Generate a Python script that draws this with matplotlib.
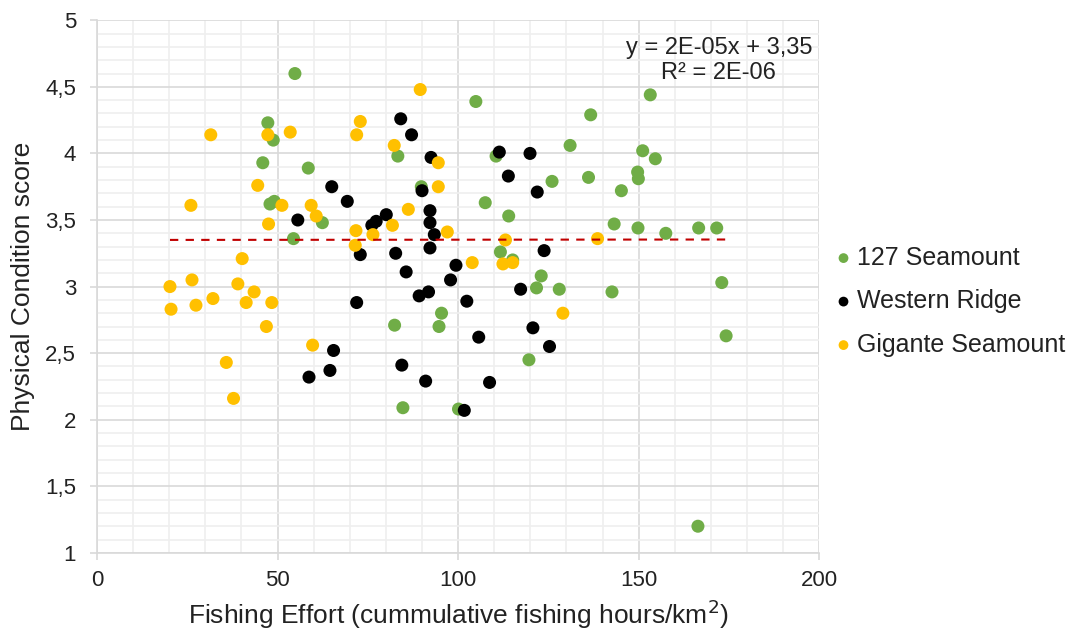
import matplotlib
matplotlib.use("Agg")
import matplotlib.pyplot as plt
import numpy as np
from matplotlib.ticker import MultipleLocator, FuncFormatter

plt.rcParams["font.family"] = ["Liberation Sans", "DejaVu Sans"]

# ── Colors (Excel defaults) ──────────────────────────────────────────────────
C_GREEN = "#70AD47"
C_BLACK = "#000000"
C_YELLOW = "#FFC000"
C_TREND = "#C00000"
C_TEXT = "#222222"
C_MAJOR = "#D9D9D9"
C_MINOR = "#EFEFEF"

# ── Data ─────────────────────────────────────────────────────────────────────
seamount127_x = [54.8, 47.3, 48.8, 45.9, 47.9, 49.1, 58.5, 62.4, 54.4, 83.3,
                 89.8, 95.4, 82.4, 94.7, 84.7, 100.1, 104.9, 153.2, 136.7, 131.0,
                 110.5, 151.1, 154.6, 136.1, 149.7, 149.9, 126.0, 145.2, 107.5, 114.0,
                 143.2, 149.8, 111.7, 115.1, 123.0, 121.7, 128.0, 142.6, 119.6, 157.5,
                 166.6, 171.6, 173.0, 174.2, 166.4]
seamount127_y = [4.60, 4.23, 4.10, 3.93, 3.62, 3.64, 3.89, 3.48, 3.36, 3.98,
                 3.75, 2.80, 2.71, 2.70, 2.09, 2.08, 4.39, 4.44, 4.29, 4.06,
                 3.98, 4.02, 3.96, 3.82, 3.86, 3.81, 3.79, 3.72, 3.63, 3.53,
                 3.47, 3.44, 3.26, 3.20, 3.08, 2.99, 2.98, 2.96, 2.45, 3.40,
                 3.44, 3.44, 3.03, 2.63, 1.20]

western_x = [84.1, 87.1, 92.5, 65.0, 90.0, 69.3, 55.6, 92.2, 92.2, 80.1,
             77.3, 76.1, 93.4, 72.9, 82.7, 92.2, 99.4, 85.6, 97.9, 89.2,
             91.8, 71.9, 102.4, 65.5, 64.5, 58.7, 84.4, 91.0, 101.7, 111.4,
             119.9, 113.9, 121.9, 123.8, 117.3, 120.7, 105.7, 125.3, 108.7]
western_y = [4.26, 4.14, 3.97, 3.75, 3.72, 3.64, 3.50, 3.57, 3.48, 3.54,
             3.49, 3.46, 3.39, 3.24, 3.25, 3.29, 3.16, 3.11, 3.05, 2.93,
             2.96, 2.88, 2.89, 2.52, 2.37, 2.32, 2.41, 2.29, 2.07, 4.01,
             4.00, 3.83, 3.71, 3.27, 2.98, 2.69, 2.62, 2.55, 2.28]

gigante_x = [31.5, 47.3, 44.5, 26.0, 47.5, 40.2, 26.3, 20.2, 39.0, 43.5,
             32.1, 41.3, 48.4, 20.5, 27.4, 46.9, 35.8, 37.8, 89.5, 53.5,
             72.9, 71.9, 82.3, 94.5, 94.5, 51.2, 59.3, 60.7, 86.2, 81.8,
             71.7, 76.4, 97.0, 71.5, 59.7, 113.1, 138.6, 103.9, 112.4, 115.1,
             129.0]
gigante_y = [4.14, 4.14, 3.76, 3.61, 3.47, 3.21, 3.05, 3.00, 3.02, 2.96,
             2.91, 2.88, 2.88, 2.83, 2.86, 2.70, 2.43, 2.16, 4.48, 4.16,
             4.24, 4.14, 4.06, 3.93, 3.75, 3.61, 3.61, 3.53, 3.58, 3.46,
             3.42, 3.39, 3.41, 3.31, 2.56, 3.35, 3.36, 3.18, 3.17, 3.18,
             2.80]

series_names = ["127 Seamount", "Western Ridge", "Gigante Seamount"]
series_colors = [C_GREEN, C_BLACK, C_YELLOW]

# Excel linear trendline over all points
trend_slope = 2e-05
trend_intercept = 3.35

# ── Figure ───────────────────────────────────────────────────────────────────
fig = plt.figure(figsize=(10.78, 6.34), dpi=100)
ax = fig.add_axes([0.090, 0.128, 0.670, 0.840])

all_x = seamount127_x + western_x + gigante_x
for xs, ys, name, col in zip([seamount127_x, western_x, gigante_x],
                             [seamount127_y, western_y, gigante_y],
                             series_names, series_colors):
    ax.scatter(xs, ys, s=88, color=col, edgecolors="none", label=name, zorder=3)

tx = np.array([min(all_x), max(all_x)])
ax.plot(tx, trend_slope * tx + trend_intercept, color=C_TREND, lw=1.5,
        dashes=(4, 3.5), zorder=4)

ax.set_xlim(0, 200)
ax.set_ylim(1, 5)
ax.xaxis.set_major_locator(MultipleLocator(50))
ax.xaxis.set_minor_locator(MultipleLocator(10))
ax.yaxis.set_major_locator(MultipleLocator(0.5))
ax.yaxis.set_minor_locator(MultipleLocator(0.1))
ax.yaxis.set_major_formatter(FuncFormatter(lambda v, p: f"{v:g}".replace(".", ",")))

ax.grid(which="major", color=C_MAJOR, lw=1.2, zorder=0)
ax.grid(which="minor", color=C_MINOR, lw=1.2, zorder=0)
ax.set_axisbelow(True)

for s in ["top", "right"]:
    ax.spines[s].set_visible(False)
for s in ["left", "bottom"]:
    ax.spines[s].set_color(C_MAJOR)
    ax.spines[s].set_linewidth(1.2)

ax.tick_params(which="major", length=5, width=1.2, color=C_MAJOR,
               labelsize=16, labelcolor=C_TEXT)
ax.tick_params(axis="y", pad=10)
ax.tick_params(axis="x", pad=7)
ax.tick_params(which="minor", length=0)

ax.set_xlabel("Fishing Effort (cummulative fishing hours/km$^2$)", fontsize=19,
              color=C_TEXT, labelpad=5)
ax.set_ylabel("Physical Condition score", fontsize=19, color=C_TEXT, labelpad=7)

ax.text(0.861, 0.925, "y = 2E-05x + 3,35\nR² = 2E-06", transform=ax.transAxes,
        ha="center", va="center", fontsize=17, color=C_TEXT, linespacing=1.15,
        multialignment="center")

leg = fig.legend(loc="center left", bbox_to_anchor=(0.750, 0.525), frameon=False,
                 fontsize=18, handletextpad=0.05, labelspacing=0.78,
                 markerscale=0.75, handlelength=1.0)
for t in leg.get_texts():
    t.set_color(C_TEXT)

fig.savefig("out.png", dpi=100, facecolor="white")
